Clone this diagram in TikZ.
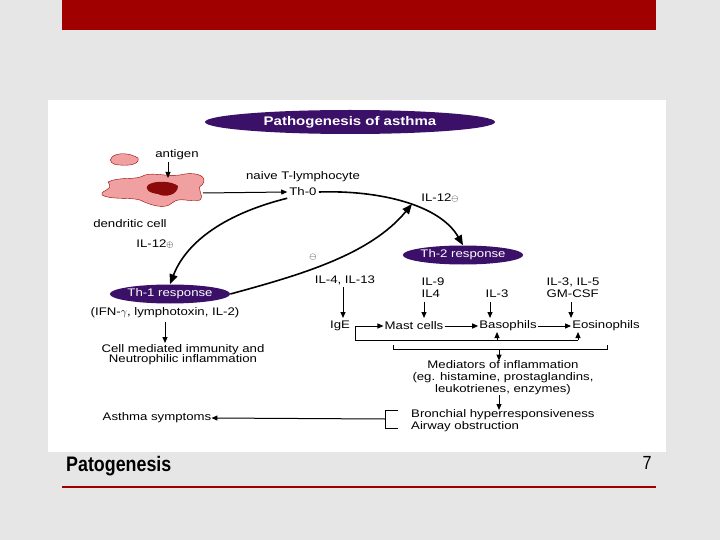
\documentclass[tikz,border=0pt]{standalone}
\usepackage{fontspec}
\setmainfont{Liberation Sans}
\newfontfamily\wide[FakeStretch=1.2]{Liberation Sans}
\newfontfamily\narrow[FakeStretch=0.85]{Liberation Sans}
\usetikzlibrary{arrows.meta,shapes.geometric}
\definecolor{slidebg}{HTML}{E6E6E6}
\definecolor{barred}{HTML}{A00000}
\definecolor{purp}{HTML}{3A1068}
\definecolor{blob}{HTML}{F0A0A0}
\definecolor{blobd}{HTML}{8B0A0A}
\begin{document}
\begin{tikzpicture}[x=1pt,y=-1pt,
  lbl/.style={font=\wide\fontsize{11}{11}\selectfont,inner sep=0pt},
  oval/.style={ellipse,fill=purp,text=white,font=\wide\fontsize{11}{11}\selectfont,minimum width=#1,minimum height=19,inner sep=0pt},
  arr/.style={-{Triangle[length=6pt,width=5pt]},line width=1pt},
  bigarr/.style={-{Triangle[length=10pt,width=8pt]},line width=1.6pt},
  ln/.style={line width=1pt}]
\useasboundingbox (0,0) rectangle (720,540);
\fill[slidebg] (0,0) rectangle (720,540);
\fill[barred] (62,0) rectangle (656,30);
\fill[white] (48,100) rectangle (666,452);
\draw[barred,line width=1.2pt] (62,487) -- (656,487);
\node[anchor=west,inner sep=0pt,font=\narrow\fontsize{21}{22}\selectfont\bfseries] (foot) at (66,466) {Patogenesis};
\node[inner sep=0pt,font=\narrow\fontsize{19}{20}\selectfont] (pg) at (647,463) {7};
% title
\node[ellipse,fill=purp,text=white,minimum width=290,minimum height=24,inner sep=0pt,font=\wide\fontsize{12.5}{13}\selectfont\bfseries] (title) at (350,122) {Pathogenesis of asthma};
% dendritic cell
\fill[blob,draw=red!60!black,line width=0.4pt] (112,157) .. controls (118,152) and (130,153) .. (138,158) .. controls (140,164) and (130,166) .. (120,165) .. controls (112,165) and (108,161) .. (112,157) -- cycle;
\fill[blob,draw=red!60!black,line width=0.4pt] (108,182) .. controls (120,176) and (135,181) .. (145,175) .. controls (155,172) and (170,178) .. (185,174) .. controls (200,172) and (208,178) .. (202,185) .. controls (195,188) and (205,195) .. (200,200) .. controls (190,203) and (180,196) .. (172,203) .. controls (165,210) and (150,205) .. (140,200) .. controls (130,197) and (110,200) .. (102,195) .. controls (100,190) and (115,190) .. (108,182) -- cycle;
\fill[blobd] (148,185) .. controls (155,180) and (172,181) .. (178,186) .. controls (178,195) and (165,198) .. (158,194) .. controls (150,193) and (144,190) .. (148,185) -- cycle;
\node[lbl] (ant) at (177,155) {antigen};
\coordinate (dc) at (168,178);
\draw[arr] (168,162) -- (dc);
\node[lbl] (dcl) at (130,224) {dendritic cell};
\coordinate (dcr) at (203,193);
\node[lbl] (naive) at (303,177) {naive T-lymphocyte};
\node[lbl,inner sep=2pt] (th0) at (303,192) {Th-0};
\draw[arr] (dcr) -- (th0.west);
% Th nodes
\node[oval=120] (th2) at (463,255) {Th-2 response};
\node[oval=120] (th1) at (170,294) {Th-1 response};
\draw[bigarr] (th0.east) .. controls (380,190) and (440,205) .. (th2.north);
\draw[bigarr] (th0.south west) .. controls (220,215) and (185,245) .. (th1.north);
\coordinate (upend) at (412,204);
\draw[bigarr] (th1.east) .. controls (300,275) and (370,255) .. (upend);
\node[lbl] (il12m) at (440,198) {IL-12{\fontsize{9}{9}\selectfont$\ominus$}};
\node[lbl] (il12p) at (155,244) {IL-12{\fontsize{9}{9}\selectfont$\oplus$}};
\node[lbl] (minus) at (313,257) {{\fontsize{9}{9}\selectfont$\ominus$}};
% Th1 branch
\node[lbl] (ifn) at (165,313) {(IFN-$\gamma$, lymphotoxin, IL-2)};
\node[lbl,align=center] (cmi) at (183,355) {Cell mediated immunity and\\[-1pt]Neutrophilic inflammation};
\draw[arr] (165,322) -- (165,343);
% Th2 branch
\node[lbl] (il4) at (345,280) {IL-4, IL-13};
\node[lbl,align=left] (il9) at (433,288) {IL-9\\[1pt]IL4};
\node[lbl] (il3) at (497,294) {IL-3};
\node[lbl,align=left] (il35) at (573,288) {IL-3, IL-5\\[1pt]GM-CSF};
\node[lbl,inner sep=1pt] (ige) at (340,326) {IgE};
\node[lbl,inner sep=1pt] (mast) at (414,326) {Mast cells};
\node[lbl,inner sep=1pt] (baso) at (508,326) {Basophils};
\node[lbl,inner sep=1pt] (eos) at (606,326) {Eosinophils};
\draw[arr] (343,287) -- (343,318);
\draw[arr] (424,302) -- (424,318);
\draw[arr] (490,302) -- (490,318);
\draw[arr] (571,302) -- (571,318);
\draw[arr] (mast.east) -- (baso.west);
\draw[arr] (baso.east) -- (eos.west);
\coordinate (b1) at (355,326);
\coordinate (b2) at (355,340);
\coordinate (b3) at (578,340);
\draw[ln] (b2) -- (b1);
\draw[arr] (b1) -- (mast.west);
\draw[ln] (b2) -- (b3);
\draw[arr] (b3) -- (578,332);
\draw[arr] (497,340) -- (497,332);
\coordinate (c1) at (393,345);
\coordinate (c2) at (607,345);
\draw[ln] (c1) -- (393,349) -- (607,349) -- (c2);
\node[lbl,align=center] (med) at (503,378) {Mediators of inflammation\\[1pt](eg. histamine, prostaglandins,\\[1pt]leukotrienes, enzymes)};
\draw[arr] (499,349) -- (med.north -| 499,0);
\node[lbl,align=left,anchor=west] (bron) at (411,420.5) {Bronchial hyperresponsiveness\\[1pt]Airway obstruction};
\draw[arr] (med.south -| 499,0) -- (499,410);
\coordinate (k1) at (398,410);
\coordinate (k2) at (398,428);
\draw[ln] (k1) -- (385,410) -- (385,428) -- (k2);
\node[lbl] (asth) at (157,418) {Asthma symptoms};
\coordinate (k3) at (385,419);
\draw[arr] (k3) -- (asth.east);
\end{tikzpicture}
\end{document}
